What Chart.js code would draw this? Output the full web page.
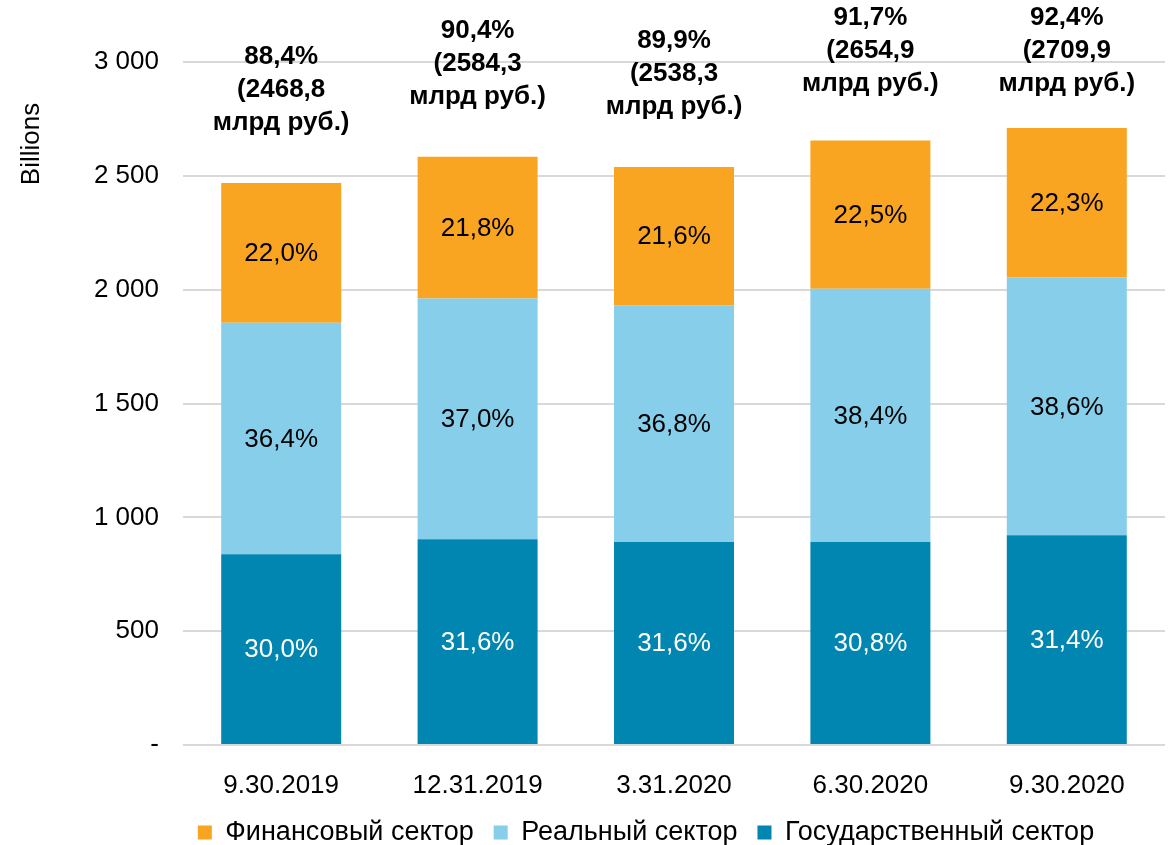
<!DOCTYPE html>
<html><head><meta charset="utf-8">
<script src="https://cdn.jsdelivr.net/npm/chart.js@4.4.1/dist/chart.umd.min.js"></script>
<style>html,body{margin:0;padding:0;background:#fff}#wrap{width:1173px;height:845px}</style>
</head><body><div id="wrap"><canvas id="c" width="1173" height="845"></canvas></div>
<script>
const categories = ['9.30.2019','12.31.2019','3.31.2020','6.30.2020','9.30.2020'];
const govValues = [837.8, 903.4, 892.2, 891.7, 920.9];
const realValues = [1016.6, 1057.7, 1039.0, 1111.8, 1132.1];
const finValues = [614.4, 623.2, 607.1, 651.4, 656.9];
const govPct = ['30,0%','31,6%','31,6%','30,8%','31,4%'];
const realPct = ['36,4%','37,0%','36,8%','38,4%','38,6%'];
const finPct = ['22,0%','21,8%','21,6%','22,5%','22,3%'];
const totalPct = ['88,4%','90,4%','89,9%','91,7%','92,4%'];
const totalValue = ['2468,8','2584,3','2538,3','2654,9','2709,9'];
const yTicks = [0,500,1000,1500,2000,2500,3000];
const yTickLabels = ['-','500','1 000','1 500','2 000','2 500','3 000'];

const FONT = '"Liberation Sans", Arial, sans-serif';
Chart.defaults.font.family = FONT;
Chart.defaults.font.size = 26;
Chart.defaults.color = '#000';

const labelPlugin = {
  id: 'barLabels',
  afterDatasetsDraw(chart) {
    const ctx = chart.ctx;
    ctx.save();
    ctx.textAlign = 'center';
    ctx.textBaseline = 'middle';
    const pctSets = [govPct, realPct, finPct];
    const colors = ['#fff', '#000', '#000'];
    ctx.font = '26px ' + FONT;
    chart.data.datasets.forEach((ds, i) => {
      const meta = chart.getDatasetMeta(i);
      ctx.fillStyle = colors[i];
      meta.data.forEach((bar, j) => {
        ctx.fillText(pctSets[i][j], bar.x, (bar.y + bar.base) / 2 + 1);
      });
    });
    const topMeta = chart.getDatasetMeta(2);
    ctx.font = 'bold 26px ' + FONT;
    ctx.fillStyle = '#000';
    topMeta.data.forEach((bar, j) => {
      const lines = [totalPct[j], '(' + totalValue[j], 'млрд руб.)'];
      let first = Math.max(bar.y - 61 - 66, 17);
      lines.forEach((l, k) => ctx.fillText(l, bar.x, first + k * 33 + 1));
    });
    ctx.restore();
  },
  afterDraw(chart) {
    const ctx = chart.ctx;
    const a = chart.chartArea;
    ctx.save();
    ctx.font = '26px ' + FONT;
    ctx.fillStyle = '#000';
    ctx.textAlign = 'center';
    ctx.textBaseline = 'middle';
    ctx.translate(a.left - 151, a.top + 82);
    ctx.rotate(-Math.PI / 2);
    ctx.fillText('Billions', 0, 0);
    ctx.restore();
  }
};

const legendShift = {
  id: 'legendShift',
  beforeLayout(chart) {
    const lg = chart.legend;
    if (lg && !lg.__patched) {
      const orig = lg.fit;
      lg.fit = function () { orig.call(this); this.height = 50; };
      lg.__patched = true;
    }
  },
  afterLayout(chart) {
    const lg = chart.legend;
    const a = chart.chartArea;
    const dx = (a.left + a.right) / 2 - 28 - (lg.left + lg.right) / 2;
    const dy = 4;
    lg.left += dx; lg.right += dx;
    lg.top += dy; lg.bottom += dy;
  }
};

new Chart(document.getElementById('c'), {
  type: 'bar',
  data: {
    labels: categories,
    datasets: [
      { label: 'Государственный сектор', data: govValues, backgroundColor: '#0086B0' },
      { label: 'Реальный сектор', data: realValues, backgroundColor: '#87CEEB' },
      { label: 'Финансовый сектор', data: finValues, backgroundColor: '#F9A521' }
    ]
  },
  options: {
    responsive: false,
    animation: false,
    devicePixelRatio: 1,
    layout: { padding: { top: 62, right: 8, left: 0, bottom: 0 } },
    datasets: { bar: { categoryPercentage: 1, barPercentage: 0.611 } },
    plugins: {
      legend: {
        position: 'bottom',
        reverse: true,
        labels: { boxWidth: 14, boxHeight: 14, padding: 20, font: { size: 27 }, color: '#000' }
      },
      tooltip: { enabled: false }
    },
    scales: {
      x: {
        stacked: true,
        grid: { display: false },
        border: { display: false },
        ticks: { padding: 17, font: { size: 26 }, color: '#000' },
        afterFit(s) { s.height = 50; }
      },
      y: {
        stacked: true,
        min: 0, max: 3000,
        grid: { color: '#d9d9d9', lineWidth: 2, drawTicks: false },
        border: { display: false },
        afterBuildTicks(s) { s.ticks = yTicks.map(v => ({ value: v })); },
        ticks: {
          padding: 24, font: { size: 26 }, color: '#000',
          callback(v) { const i = yTicks.indexOf(v); return i >= 0 ? yTickLabels[i] : ''; }
        },
        afterFit(s) { s.width = 183; }
      }
    }
  },
  plugins: [labelPlugin, legendShift]
});
</script></body></html>
